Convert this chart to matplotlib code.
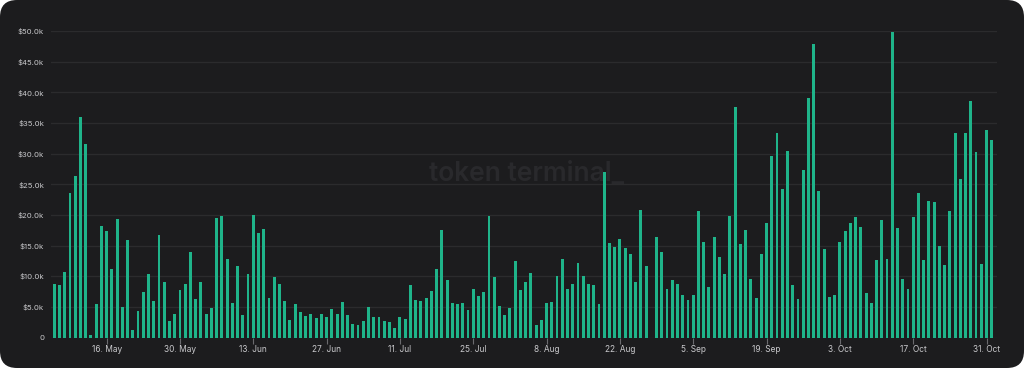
import numpy as np
import pandas as pd
import matplotlib
matplotlib.use("Agg")
import matplotlib.pyplot as plt
from matplotlib.patches import FancyBboxPatch

# daily values in $k, starting 6 May
start_date = "2022-05-06"
values_k = [
    8.7, 8.5, 10.7, 23.6, 26.3, 35.9, 31.6, 0.4, 5.5, 18.2,
    17.4, 11.2, 19.4, 5.0, 15.9, 1.3, 4.4, 7.4, 10.4, 5.9,
    16.7, 9.0, 2.7, 3.9, 7.8, 8.8, 13.9, 6.3, 9.1, 3.9,
    4.8, 19.5, 19.8, 12.8, 5.7, 11.6, 3.6, 10.3, 20.0, 17.0,
    17.7, 6.5, 9.9, 8.8, 5.9, 2.8, 5.5, 4.2, 3.5, 3.8,
    3.2, 3.8, 3.3, 4.6, 3.9, 5.8, 3.6, 2.2, 2.0, 2.7,
    5.0, 3.4, 3.4, 2.7, 2.6, 1.5, 3.4, 3.0, 8.5, 6.1,
    6.0, 6.4, 7.6, 11.1, 17.5, 9.4, 5.6, 5.4, 5.7, 4.5,
    7.9, 6.7, 7.5, 19.9, 9.8, 5.1, 3.6, 4.8, 12.5, 7.7,
    9.1, 10.6, 2.0, 2.9, 5.7, 5.8, 10.0, 12.8, 7.9, 8.7,
    12.1, 10.0, 8.8, 8.5, 5.5, 27.0, 15.4, 14.7, 16.1, 14.6,
    13.6, 9.0, 20.8, 11.7, 0.0, 16.4, 14.0, 7.9, 9.3, 8.8,
    6.9, 6.1, 6.9, 20.7, 15.5, 8.2, 16.4, 13.1, 10.3, 19.9,
    37.6, 15.3, 17.6, 9.5, 6.5, 13.7, 18.7, 29.6, 33.4, 24.3,
    30.5, 8.5, 6.3, 27.3, 39.0, 47.8, 23.9, 14.4, 6.6, 7.0,
    15.5, 17.4, 18.7, 19.6, 18.0, 7.2, 5.7, 12.6, 19.1, 12.8,
    49.8, 17.8, 9.5, 7.9, 19.7, 23.6, 12.6, 22.3, 22.1, 15.0,
    11.8, 20.7, 33.4, 25.8, 33.4, 38.5, 30.3, 12.0, 33.9, 32.2,
]
tick_dates = ["2022-05-16", "2022-05-30", "2022-06-13", "2022-06-27", "2022-07-11",
              "2022-07-25", "2022-08-08", "2022-08-22", "2022-09-05", "2022-09-19",
              "2022-10-03", "2022-10-17", "2022-10-31"]
tick_labels = ["16. May", "30. May", "13. Jun", "27. Jun", "11. Jul", "25. Jul", "8. Aug",
               "22. Aug", "5. Sep", "19. Sep", "3. Oct", "17. Oct", "31. Oct"]
y_ticks = [0, 5, 10, 15, 20, 25, 30, 35, 40, 45, 50]
y_labels = ["0"] + [f"${v:.1f}k" for v in y_ticks[1:]]

card = "#1c1c1e"
bar_color = "#1fb48a"
grid_color = "#2b2b2d"
text_color = "#c9c9cc"

plt.rcParams['font.family'] = ['Inter', 'DejaVu Sans']

dates = pd.date_range(start_date, periods=len(values_k), freq="D")
pos = np.arange(len(values_k))
tick_pos = [(pd.Timestamp(d) - dates[0]).days for d in tick_dates]

fig = plt.figure(figsize=(10.24, 3.68), dpi=100, facecolor="white")

# rounded dark card behind everything, drawn in pixel units
bg_ax = fig.add_axes([0, 0, 1, 1], zorder=-5)
bg_ax.set_xlim(0, 1024)
bg_ax.set_ylim(0, 368)
bg_ax.axis("off")
bg_ax.add_patch(FancyBboxPatch((0, 0), 1024, 368, boxstyle="round,pad=0,rounding_size=17",
                               facecolor=card, edgecolor="none"))

ax = fig.add_axes([51 / 1024, (368 - 337.5) / 368, 946 / 1024, 306.5 / 368])
ax.set_facecolor("none")

ax.bar(pos, values_k, width=0.55, color=bar_color, zorder=3)

ax.set_xlim(-0.62, 180.0)
ax.set_ylim(0, 50)
ax.set_yticks(y_ticks)
ax.set_yticklabels(y_labels)
ax.set_xticks(tick_pos)
ax.set_xticklabels(tick_labels)

ax.grid(axis="y", color=grid_color, linewidth=1, zorder=0)
for s in ax.spines.values():
    s.set_visible(False)
ax.tick_params(axis="y", length=0, pad=5, labelsize=5.6, labelcolor=text_color)
ax.tick_params(axis="x", length=4, width=0.8, color="#6a6a6e", pad=1.5,
               labelsize=6, labelcolor=text_color)

ax.text(0.5025, 0.535, "token terminal_", transform=ax.transAxes, ha="center", va="center",
        fontsize=19, fontweight="semibold", color="#29292c", zorder=1)

fig.savefig("out.png", dpi=100, facecolor="white")
